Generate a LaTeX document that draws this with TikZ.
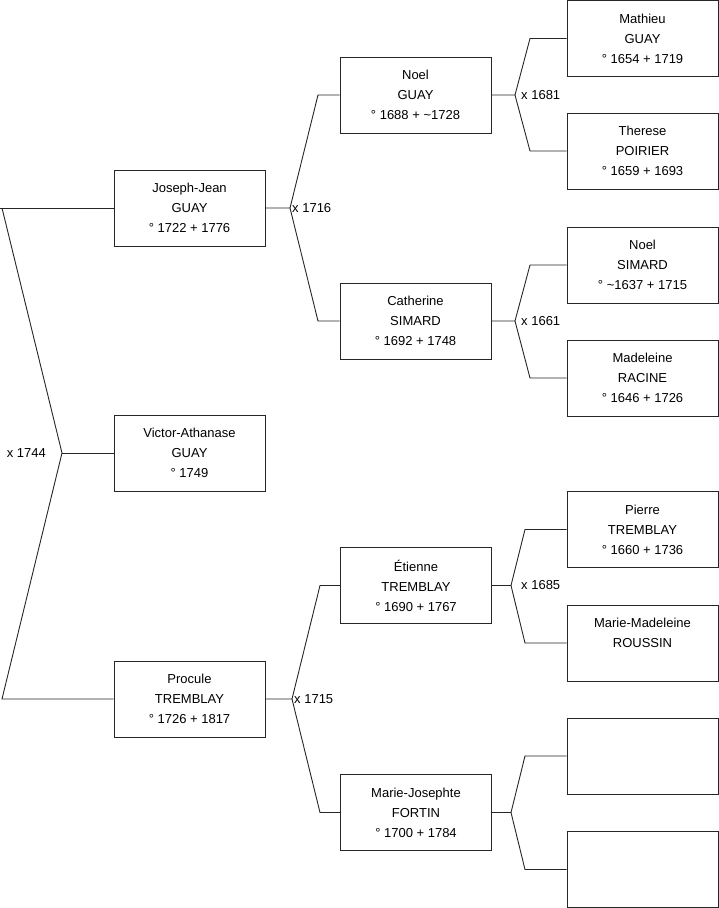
\documentclass[tikz,border=0pt]{standalone}
\usepackage{fontspec}
\setmainfont{Liberation Sans}
\usetikzlibrary{positioning}

\begin{document}
\begin{tikzpicture}[x=1pt,y=-1pt,
  person/.style={draw=black!85,line width=0.9pt,minimum width=151pt,minimum height=76pt,inner sep=0pt,align=center,font=\fontsize{13}{20}\selectfont},
  link/.style={draw=black!85,line width=0.9pt},
  wed/.style={font=\fontsize{13}{16}\selectfont,inner sep=0pt}]
\useasboundingbox (0,0) rectangle (719,908);

\node[person] (jj) at (189.5,208) {Joseph-Jean\\GUAY\\° 1722 + 1776};
\node[person] (va) at (189.5,453) {Victor-Athanase\\GUAY\\° 1749};
\node[person] (pr) at (189.5,699) {Procule\\TREMBLAY\\° 1726 + 1817};

\node[person] (ng) at (415.5,95) {Noel\\GUAY\\° 1688 + \textasciitilde1728};
\node[person] (cs) at (415.5,321) {Catherine\\SIMARD\\° 1692 + 1748};
\node[person] (et) at (416,585.5) {Étienne\\TREMBLAY\\° 1690 + 1767};
\node[person] (mj) at (416,812.5) {Marie-Josephte\\FORTIN\\° 1700 + 1784};

\node[person] (mg) at (642.5,38.5) {Mathieu\\GUAY\\° 1654 + 1719};
\node[person] (tp) at (642.5,151) {Therese\\POIRIER\\° 1659 + 1693};
\node[person] (ns) at (642.5,265) {Noel\\SIMARD\\° \textasciitilde1637 + 1715};
\node[person] (mr) at (642.5,378) {Madeleine\\RACINE\\° 1646 + 1726};
\node[person] (pt) at (642.5,529.5) {Pierre\\TREMBLAY\\° 1660 + 1736};
\node[person] (mm) at (642.5,643) {Marie-Madeleine\\ROUSSIN\\\mbox{}};
\node[person] (ea) at (642.5,756) {};
\node[person] (eb) at (642.5,869.5) {};

\coordinate (ja) at (2,208);
\coordinate (j0) at (62,453);
\coordinate (jb) at (2,699);
\draw[link] (jj.west) -- (0,208);
\draw[link] (ja) -- (j0) -- (jb) -- (pr.west);
\draw[link] (j0) -- (va.west);
\node[wed,left=16pt of j0] (w0) {x 1744};

\coordinate (j1) at (290,208);
\draw[link] (jj.east) -- (j1) -- (318,95) -- (ng.west);
\draw[link] (j1) -- (318,321) -- (cs.west);
\node[wed,right=2pt of j1] (w1) {x 1716};

\coordinate (j2) at (292,699);
\draw[link] (pr.east) -- (j2) -- (320,585.5) -- (et.west);
\draw[link] (j2) -- (320,812.5) -- (mj.west);
\node[wed,right=2pt of j2] (w2) {x 1715};

\coordinate (j3) at (515,95);
\draw[link] (ng.east) -- (j3) -- (530,38.5) -- (mg.west);
\draw[link] (j3) -- (530,151) -- (tp.west);
\node[wed,right=6pt of j3] (w3) {x 1681};

\coordinate (j4) at (515,321);
\draw[link] (cs.east) -- (j4) -- (530,265) -- (ns.west);
\draw[link] (j4) -- (530,378) -- (mr.west);
\node[wed,right=6pt of j4] (w4) {x 1661};

\coordinate (j5) at (511,585.5);
\draw[link] (et.east) -- (j5) -- (525,529.5) -- (pt.west);
\draw[link] (j5) -- (525,643) -- (mm.west);
\node[wed,right=10pt of j5] (w5) {x 1685};

\coordinate (j6) at (511,812.5);
\draw[link] (mj.east) -- (j6) -- (525,756) -- (ea.west);
\draw[link] (j6) -- (525,869.5) -- (eb.west);

\end{tikzpicture}
\end{document}
